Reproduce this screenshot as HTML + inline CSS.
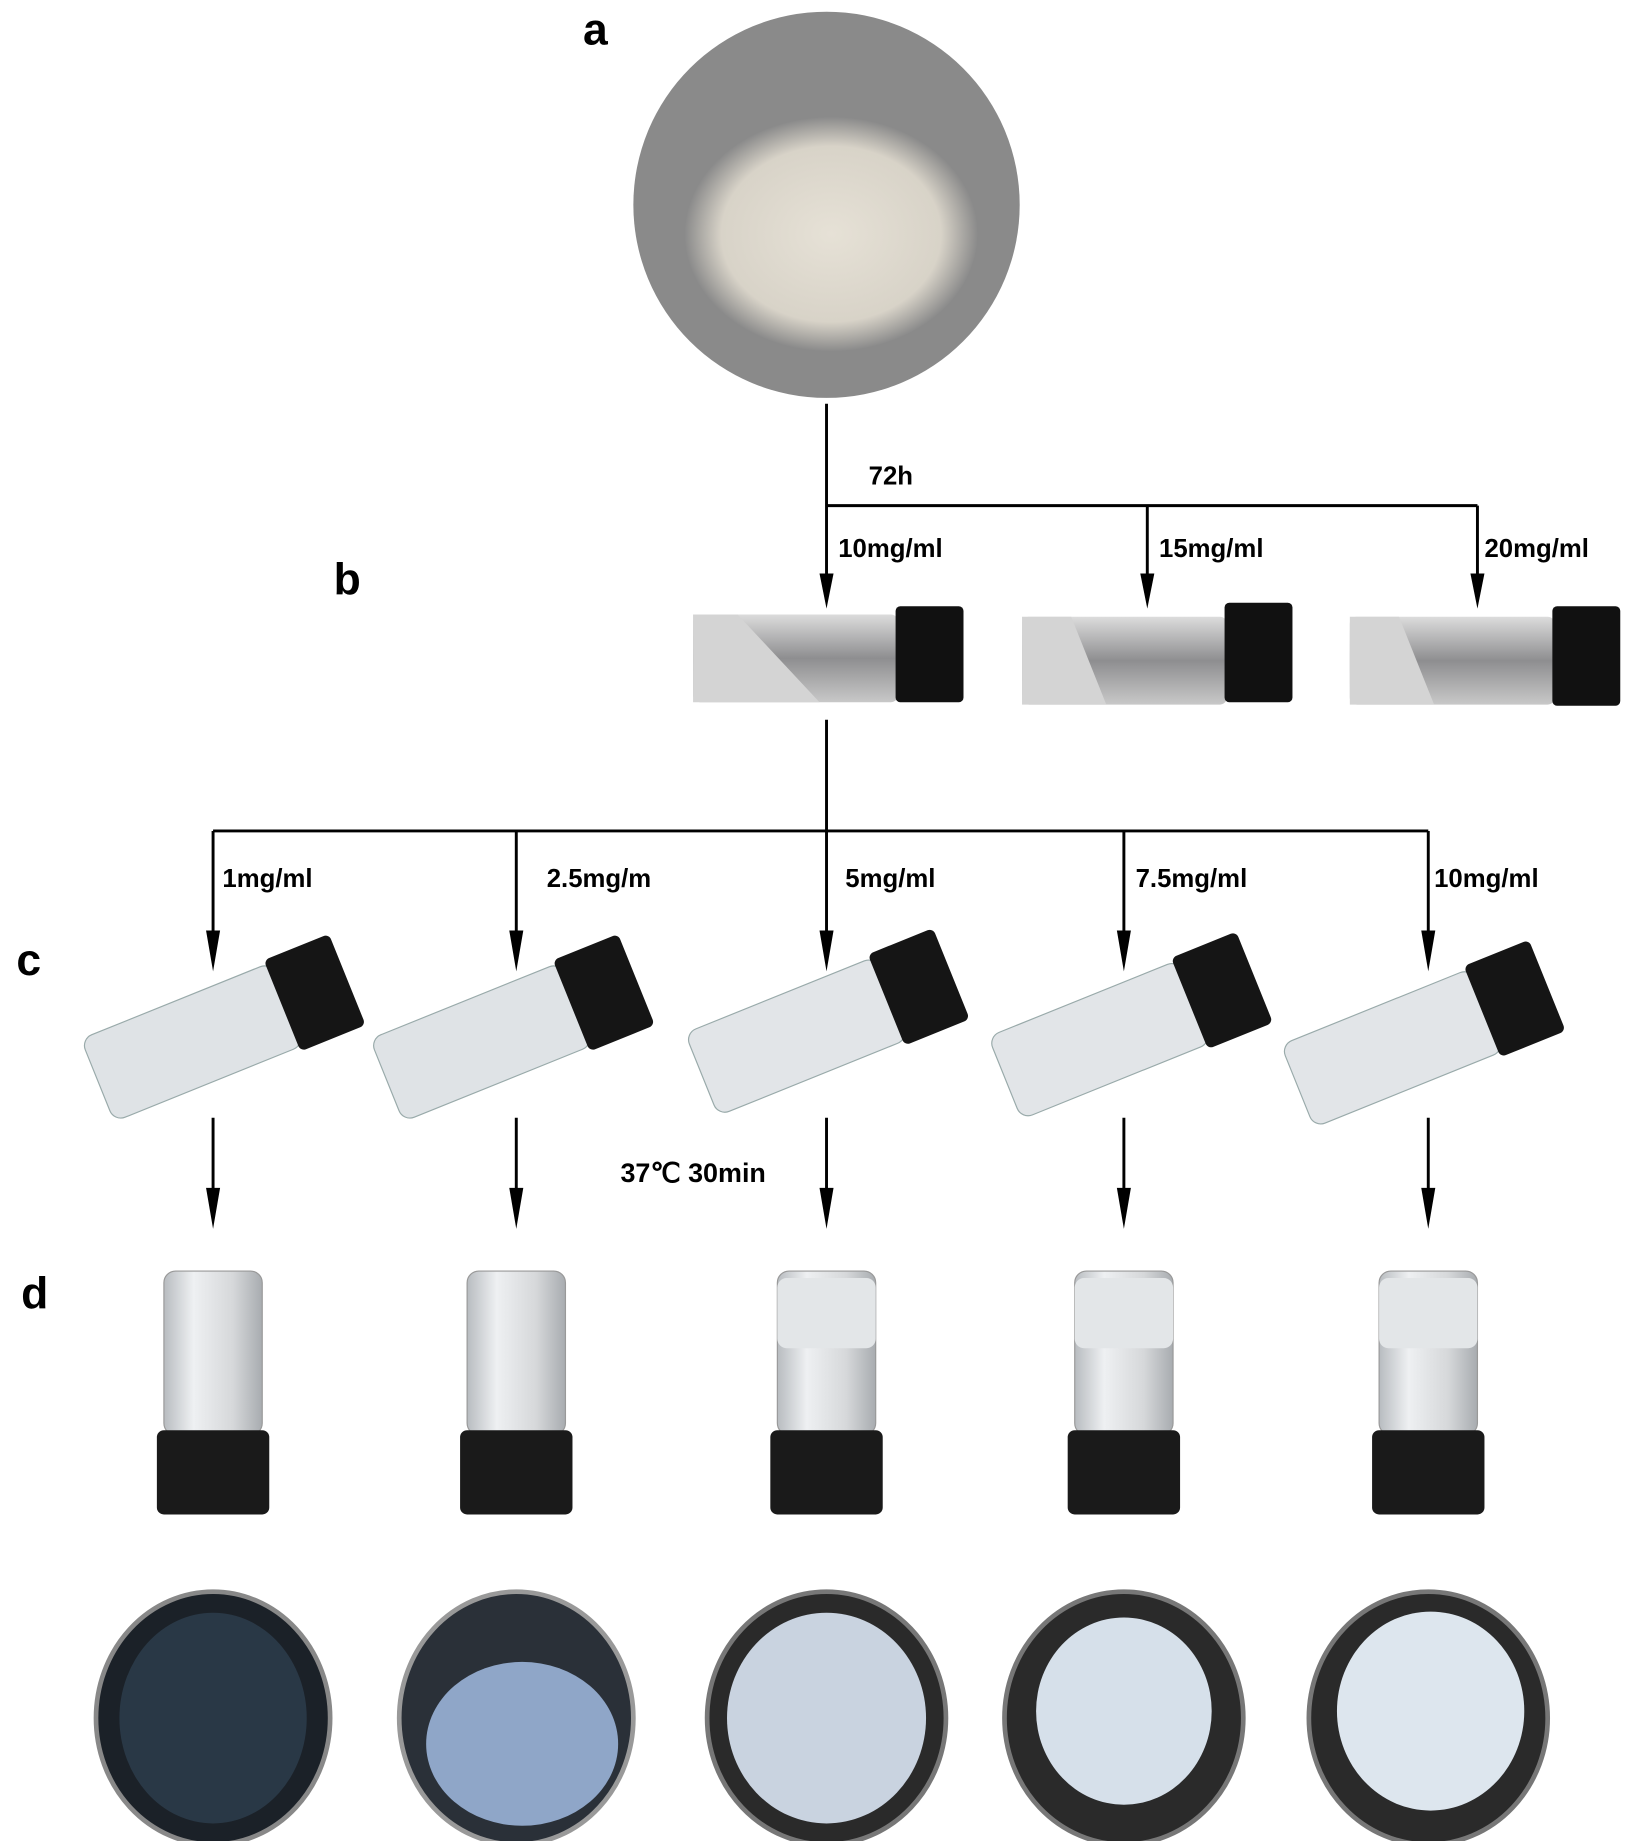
<!DOCTYPE html>
<html><head><meta charset="utf-8"><style>
html,body{margin:0;padding:0;background:#fff;}
svg{display:block;}
text{font-family:"Liberation Sans",sans-serif;}
</style></head><body>
<svg width="1639" height="1841" viewBox="0 0 1400 1573" preserveAspectRatio="none" xmlns="http://www.w3.org/2000/svg">
<defs>
<radialGradient id="pw" cx="0.5" cy="0.5" r="0.5"><stop offset="0" stop-color="#e6e1d6"/><stop offset="0.75" stop-color="#d8d3c8"/><stop offset="1" stop-color="#8b8b8b"/></radialGradient>
<linearGradient id="glass" x1="0" y1="0" x2="0" y2="1"><stop offset="0" stop-color="#dcdcdc"/><stop offset="0.5" stop-color="#8e8e90"/><stop offset="1" stop-color="#c8c8c8"/></linearGradient>
<linearGradient id="tv" x1="0" y1="0" x2="1" y2="0"><stop offset="0" stop-color="#b8bcc0"/><stop offset="0.3" stop-color="#eef0f2"/><stop offset="0.7" stop-color="#d6d8da"/><stop offset="1" stop-color="#a8acb0"/></linearGradient>
</defs>

<text x="498" y="38" font-size="38" font-weight="bold">a</text>
<circle cx="706" cy="175" r="165" fill="#8a8a8a"/>
<ellipse cx="710" cy="200" rx="125" ry="100" fill="url(#pw)"/>

<g stroke="#000" stroke-width="2.5" fill="none">
<line x1="706" y1="345" x2="706" y2="495"/>
<line x1="706" y1="432" x2="1262" y2="432"/>
<line x1="980" y1="432" x2="980" y2="495"/>
<line x1="1262" y1="432" x2="1262" y2="495"/>
<line x1="706" y1="615" x2="706" y2="800"/>
<line x1="182" y1="710" x2="1220" y2="710"/>
<line x1="182" y1="710" x2="182" y2="800"/>
<line x1="441" y1="710" x2="441" y2="800"/>
<line x1="960" y1="710" x2="960" y2="800"/>
<line x1="1220" y1="710" x2="1220" y2="800"/>
<line x1="182" y1="955" x2="182" y2="1020"/>
<line x1="441" y1="955" x2="441" y2="1020"/>
<line x1="706" y1="955" x2="706" y2="1020"/>
<line x1="960" y1="955" x2="960" y2="1020"/>
<line x1="1220" y1="955" x2="1220" y2="1020"/>
</g>
<g fill="#000">
<polygon points="700,490 712,490 706,520"/>
<polygon points="974,490 986,490 980,520"/>
<polygon points="1256,490 1268,490 1262,520"/>
<polygon points="176,795 188,795 182,830"/>
<polygon points="435,795 447,795 441,830"/>
<polygon points="700,795 712,795 706,830"/>
<polygon points="954,795 966,795 960,830"/>
<polygon points="1214,795 1226,795 1220,830"/>
<polygon points="176,1015 188,1015 182,1050"/>
<polygon points="435,1015 447,1015 441,1050"/>
<polygon points="700,1015 712,1015 706,1050"/>
<polygon points="954,1015 966,1015 960,1050"/>
<polygon points="1214,1015 1226,1015 1220,1050"/>
</g>
<g font-size="22" font-weight="bold">
<text x="742" y="414">72h</text>
<text x="716" y="476">10mg/ml</text>
<text x="990" y="476">15mg/ml</text>
<text x="1268" y="476">20mg/ml</text>
<text x="190" y="758">1mg/ml</text>
<text x="467" y="758">2.5mg/m</text>
<text x="722" y="758">5mg/ml</text>
<text x="970" y="758">7.5mg/ml</text>
<text x="1225" y="758">10mg/ml</text>
</g>
<text x="285" y="508" font-size="38" font-weight="bold">b</text>
<text x="14" y="833" font-size="38" font-weight="bold">c</text>
<text x="530" y="1010" font-size="23" font-weight="bold" font-family="Liberation Sans, Noto Sans CJK SC, sans-serif">37℃ 30min</text>
<text x="18" y="1118" font-size="38" font-weight="bold">d</text>

<g>
<rect x="592" y="525" width="175" height="75" rx="6" fill="url(#glass)"/>
<polygon points="592,525 630,525 700,600 592,600" fill="#d4d4d4"/>
<rect x="765" y="518" width="58" height="82" rx="4" fill="#111"/>
<rect x="873" y="527" width="175" height="75" rx="6" fill="url(#glass)"/>
<polygon points="873,527 915,527 945,602 873,602" fill="#d4d4d4"/>
<rect x="1046" y="515" width="58" height="85" rx="4" fill="#111"/>
<rect x="1153" y="527" width="175" height="75" rx="6" fill="url(#glass)"/>
<polygon points="1153,527 1195,527 1225,602 1153,602" fill="#d4d4d4"/>
<rect x="1326" y="518" width="58" height="85" rx="4" fill="#111"/>
</g>

<g>
<g transform="translate(190,880) rotate(-22)"><rect x="-115" y="-38" width="175" height="76" rx="10" fill="#dfe3e6" stroke="#9aa" stroke-width="1"/><rect x="55" y="-42" width="60" height="84" rx="5" fill="#151515"/></g>
<g transform="translate(437,880) rotate(-22)"><rect x="-115" y="-38" width="175" height="76" rx="10" fill="#dfe3e6" stroke="#9aa" stroke-width="1"/><rect x="55" y="-42" width="60" height="84" rx="5" fill="#151515"/></g>
<g transform="translate(706,875) rotate(-22)"><rect x="-115" y="-38" width="175" height="76" rx="10" fill="#e2e5e8" stroke="#9aa" stroke-width="1"/><rect x="55" y="-42" width="60" height="84" rx="5" fill="#151515"/></g>
<g transform="translate(965,878) rotate(-22)"><rect x="-115" y="-38" width="175" height="76" rx="10" fill="#e2e5e8" stroke="#9aa" stroke-width="1"/><rect x="55" y="-42" width="60" height="84" rx="5" fill="#151515"/></g>
<g transform="translate(1215,885) rotate(-22)"><rect x="-115" y="-38" width="175" height="76" rx="10" fill="#e2e5e8" stroke="#9aa" stroke-width="1"/><rect x="55" y="-42" width="60" height="84" rx="5" fill="#151515"/></g>
</g>

<g>
<g transform="translate(182,0)"><rect x="-42" y="1086" width="84" height="140" rx="10" fill="url(#tv)" stroke="#999"/><rect x="-48" y="1222" width="96" height="72" rx="6" fill="#1a1a1a"/></g>
<g transform="translate(441,0)"><rect x="-42" y="1086" width="84" height="140" rx="10" fill="url(#tv)" stroke="#999"/><rect x="-48" y="1222" width="96" height="72" rx="6" fill="#1a1a1a"/></g>
<g transform="translate(706,0)"><rect x="-42" y="1086" width="84" height="140" rx="10" fill="url(#tv)" stroke="#999"/><rect x="-42" y="1092" width="84" height="60" rx="8" fill="#e3e6e8"/><rect x="-48" y="1222" width="96" height="72" rx="6" fill="#1a1a1a"/></g>
<g transform="translate(960,0)"><rect x="-42" y="1086" width="84" height="140" rx="10" fill="url(#tv)" stroke="#999"/><rect x="-42" y="1092" width="84" height="60" rx="8" fill="#e3e6e8"/><rect x="-48" y="1222" width="96" height="72" rx="6" fill="#1a1a1a"/></g>
<g transform="translate(1220,0)"><rect x="-42" y="1086" width="84" height="140" rx="10" fill="url(#tv)" stroke="#999"/><rect x="-42" y="1092" width="84" height="60" rx="8" fill="#e3e6e8"/><rect x="-48" y="1222" width="96" height="72" rx="6" fill="#1a1a1a"/></g>
</g>

<g>
<ellipse cx="182" cy="1468" rx="100" ry="108" fill="#1b2128" stroke="#888" stroke-width="4"/>
<ellipse cx="182" cy="1468" rx="80" ry="90" fill="#34485a" opacity="0.6"/>
<ellipse cx="441" cy="1468" rx="100" ry="108" fill="#2a3038" stroke="#999" stroke-width="4"/>
<ellipse cx="446" cy="1490" rx="82" ry="70" fill="#8fa6c8"/>
<ellipse cx="706" cy="1468" rx="102" ry="108" fill="#2a2a2a" stroke="#777" stroke-width="4"/>
<ellipse cx="706" cy="1468" rx="85" ry="90" fill="#c9d3e0"/>
<ellipse cx="960" cy="1468" rx="102" ry="108" fill="#2a2a2a" stroke="#777" stroke-width="4"/>
<ellipse cx="960" cy="1462" rx="75" ry="80" fill="#d6e0ea"/>
<ellipse cx="1220" cy="1468" rx="102" ry="108" fill="#2a2a2a" stroke="#777" stroke-width="4"/>
<ellipse cx="1222" cy="1462" rx="80" ry="85" fill="#dde6ee"/>
</g>
</svg>
</body></html>
